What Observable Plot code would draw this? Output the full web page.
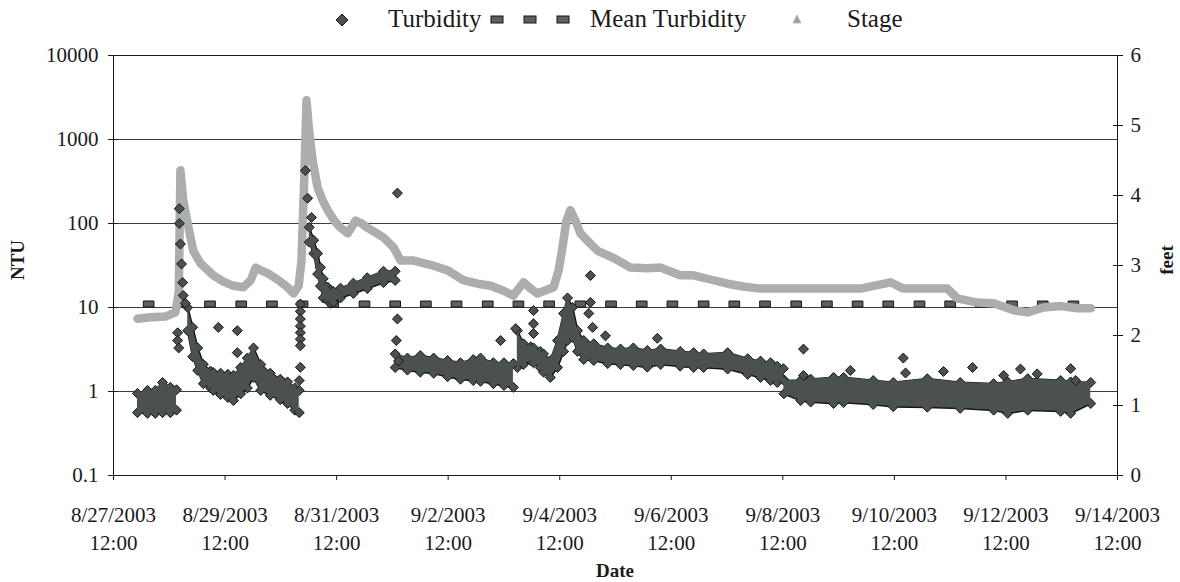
<!DOCTYPE html>
<html><head><meta charset="utf-8">
<script src="https://cdn.jsdelivr.net/npm/d3@7"></script>
<script src="https://cdn.jsdelivr.net/npm/@observablehq/plot@0.6"></script>
<style>
body{margin:0;background:#fff;font-family:"Liberation Serif","Times New Roman",serif;color:#1a1a1a}
#wrap{position:relative;width:1180px;height:582px;overflow:hidden;background:#fff}
#legend{position:absolute;left:0;top:0;width:1180px;height:40px}
#chart{position:absolute;left:0;top:40px}
.lt{position:absolute;font-size:25px;line-height:30px;top:4px;white-space:nowrap}
.ax{position:absolute;font-weight:bold;font-size:19px;line-height:22px;white-space:nowrap}
</style></head><body>
<div id="wrap"><div id="legend"></div><div id="chart"></div></div>
<script>
// ---------------- data ----------------
// time is given in days after 8/27/2003 12:00
const stageDay = [0.43,0.66,0.93,1.11,1.17,1.20,1.25,1.33,1.43,1.56,1.79,1.97,2.15,2.33,2.46,2.55,2.64,2.76,2.94,3.12,3.23,3.32,3.37,3.42,3.46,3.51,3.57,3.66,3.75,3.84,3.96,4.07,4.20,4.34,4.43,4.55,4.70,4.84,5.02,5.15,5.27,5.38,5.68,5.99,6.27,6.53,6.76,6.99,7.17,7.35,7.48,7.60,7.89,7.98,8.05,8.12,8.19,8.28,8.37,8.55,8.68,8.82,8.96,9.27,9.57,9.81,10.16,10.40,10.70,11.01,11.29,11.60,12.19,12.80,13.39,13.93,14.16,14.35,14.95,15.13,15.49,15.78,16.14,16.39,16.67,16.98,17.28,17.52];
const stageFeet = [2.24,2.26,2.27,2.33,2.61,4.36,3.93,3.60,3.21,3.03,2.86,2.77,2.71,2.69,2.79,2.97,2.93,2.89,2.80,2.69,2.60,2.71,3.07,4.25,5.36,4.90,4.50,4.11,3.93,3.79,3.64,3.54,3.46,3.64,3.61,3.54,3.47,3.40,3.26,3.07,3.07,3.07,3.01,2.93,2.79,2.74,2.71,2.64,2.57,2.76,2.67,2.60,2.69,2.93,3.26,3.64,3.79,3.64,3.46,3.31,3.21,3.16,3.11,2.97,2.96,2.97,2.86,2.86,2.80,2.74,2.70,2.67,2.67,2.67,2.67,2.76,2.67,2.67,2.67,2.53,2.47,2.46,2.36,2.33,2.40,2.42,2.39,2.39];

// dense turbidity band: segment id, time, lower and upper edge (NTU)
const bandSeg = [1,1,1,1,1,1, 2,2,2,2,2,2,2,2,2,2,2,2,2,2,2,2,2,2, 3,3,3,3,3,3,3,3,3,3,3,3,3, 4,4,4,4,4,4,4,4,4,4,4, 5,5,5,5,5,5,5,5,5,5,5,5,5,5,5,5,5,5,5,5,5,5,5,5,5,5,5,5, 6,6,6,6,6,6,6,6,6,6,6,6,6,6,6];
const bandDay = [0.43,0.61,0.75,0.88,1.02,1.13,
  1.33,1.42,1.51,1.61,1.74,1.79,1.92,2.05,2.15,2.28,2.40,2.51,2.64,2.81,2.99,3.12,3.25,3.33,
  3.51,3.59,3.66,3.71,3.76,3.84,3.89,3.94,4.07,4.30,4.55,4.84,5.05,
  5.05,5.27,5.50,5.74,5.99,6.22,6.45,6.58,6.81,7.00,7.17,
  7.24,7.35,7.48,7.53,7.65,7.71,7.83,7.96,8.07,8.14,8.23,8.32,8.43,8.61,8.86,9.09,9.32,9.57,9.81,10.16,10.40,10.58,11.01,11.37,11.60,11.78,11.90,12.01,
  12.02,12.32,12.50,12.91,13.09,13.62,13.98,14.59,15.18,15.78,16.03,16.39,16.98,17.16,17.52];
const bandLo = [0.56,0.55,0.55,0.56,0.56,0.60,
  5.3,2.6,1.78,1.24,1.10,1.03,0.92,0.85,0.78,0.94,1.10,1.47,1.03,0.90,0.80,0.72,0.60,0.56,
  60,44,25,18,13,12,11.2,11.5,13,14.7,16.8,19.8,21,
  1.93,1.8,1.7,1.65,1.5,1.4,1.35,1.32,1.24,1.18,1.12,
  1.93,2.1,2.34,2.2,1.93,1.7,1.47,1.93,3.0,4.05,4.4,3.0,2.4,2.34,2.15,2.1,2.04,1.95,2.1,2.0,1.93,1.93,1.85,1.6,1.47,1.35,1.28,1.40,
  0.94,0.78,0.75,0.72,0.74,0.70,0.66,0.65,0.63,0.60,0.55,0.60,0.58,0.55,0.72];
const bandHi = [0.95,1.03,1.03,1.28,1.12,1.05,
  10,5.8,3.3,2.1,1.75,1.68,1.65,1.6,1.55,1.93,2.5,3.3,2.1,1.65,1.40,1.30,1.10,1.03,
  90,63,44,30,22,17.5,16,15.5,17,19.5,22.6,27,27,
  2.8,2.5,2.68,2.5,2.34,2.2,2.4,2.5,2.2,2.2,2.15,
  5.3,3.7,3.4,3.3,3.0,2.8,2.34,4.05,8.5,13,10,5.3,4.05,3.7,3.3,3.2,3.3,3.08,3.2,3.0,2.9,2.8,2.9,2.46,2.3,2.2,2.0,1.87,
  1.35,1.35,1.40,1.47,1.47,1.35,1.28,1.42,1.28,1.24,1.30,1.42,1.35,1.30,1.28];

// individual turbidity readings (rises and outliers)
const pointDay = [1.15,1.15,1.17,1.18,1.18,1.20,1.22,1.24,1.25,1.29,1.88,2.22,2.22,3.35,3.35,3.35,3.35,3.35,3.35,3.35,3.35,3.33,3.44,3.48,3.55,5.09,5.09,5.07,5.11,6.94,7.21,7.53,7.53,7.53,8.55,8.55,8.52,8.59,8.82,9.75,12.37,12.37,13.21,14.16,14.20,14.88,15.40,15.96,16.26,16.56,17.16,17.25];
const pointNTU = [5.0,4.05,3.3,150,100,57,33,19.8,13.9,11.2,5.8,5.3,2.9,11,9,7.3,6,5,4.2,3.5,1.94,1.35,427,200,118,230,7.3,4.05,2.3,4.05,5.6,9.2,6.4,4.9,24,11.5,8.5,5.8,4.6,4.3,3.2,1.55,1.78,2.5,1.66,1.73,1.93,1.55,1.85,1.62,1.87,1.35];

const meanTurbidity = 11;
const meanMarkerDay = [0.63,1.18,1.73,2.29,2.84,3.39,3.94,4.50,5.05,5.60,6.15,6.71,7.26,7.81,8.37,8.92,9.47,10.02,10.58,11.13,11.68,12.24,12.79,13.34,13.89,14.45,15.00,15.55,16.11,16.66,17.21];

const leftTicks = [0.1,1,10,100,1000,10000];
const gridNTU = [1,10,100,1000];
const rightTicks = [0,1,2,3,4,5,6];
const xTickDay = [0,2,4,6,8,10,12,14,16,18];
const seriesNames = ["Turbidity","Mean Turbidity","Stage"];
const axisTitles = {left:"NTU", right:"feet", bottom:"Date"};

// ---------------- build ----------------
const start = Date.UTC(2003,7,27,12);
const toDate = d => new Date(start + d*864e5);
const feetToNTU = s => Math.pow(10, -1 + s*5/6);     // right axis 0..6 ft ↔ 0.1..10000 NTU

const stage = stageDay.map((d,i)=>({t:toDate(d), v:feetToNTU(stageFeet[i])}));
const band = bandDay.map((d,i)=>({t:toDate(d), lo:bandLo[i], hi:bandHi[i], seg:bandSeg[i]}));
const pts = pointDay.map((d,i)=>({t:toDate(d), v:pointNTU[i]}));
const mean = meanMarkerDay.map(d=>({t:toDate(d), v:meanTurbidity}));
const xTicks = xTickDay.map(toDate);

const DARK = "#4b5050", EDGE = "#161616", STAGE = "#adadad";
const rectSym = {draw(ctx, size){ const w = Math.sqrt(size); ctx.rect(-w*0.6,-w*0.34,w*1.2,w*0.68); }};

const chart = Plot.plot({
  width:1180, height:542,
  marginTop:15, marginBottom:107, marginLeft:113, marginRight:63,
  style:{fontFamily:'"Liberation Serif","Times New Roman",serif', fontSize:"21px", color:"#1a1a1a", background:"#fff", overflow:"visible"},
  x:{type:"utc", domain:[toDate(0), toDate(18)]},
  y:{type:"log", domain:[0.1,10000]},
  marks:[
    Plot.ruleY(gridNTU, {stroke:"#3c3c3c", strokeWidth:1}),
    Plot.frame({stroke:"#1a1a1a", strokeWidth:1}),
    Plot.axisY(leftTicks, {anchor:"left", fill:"none", tickSize:10, dx:5, label:null}),
    Plot.text(leftTicks, {y:d=>d, text:d=>String(d), frameAnchor:"left", textAnchor:"end", dx:-15}),
    Plot.axisY(rightTicks.map(feetToNTU), {anchor:"right", fill:"none", tickSize:10, dx:-5, label:null}),
    Plot.text(rightTicks, {y:d=>feetToNTU(d), text:d=>String(d), frameAnchor:"right", textAnchor:"start", dx:13}),
    Plot.axisX(xTicks, {anchor:"bottom", tickSize:5, tickPadding:22, label:null, lineHeight:1.33,
      tickFormat:d=>`${d.getUTCMonth()+1}/${d.getUTCDate()}/${d.getUTCFullYear()}\n12:00`}),
    // mean turbidity markers
    Plot.dot(mean, {x:"t", y:"v", symbol:rectSym, r:5, fill:"#5c6060", stroke:EDGE, strokeWidth:1}),
    // stage
    Plot.line(stage, {x:"t", y:"v", stroke:STAGE, strokeWidth:8.5, strokeLinejoin:"round", strokeLinecap:"round"}),
    // turbidity band
    Plot.line(band, {x:"t", y:"lo", z:"seg", stroke:EDGE, strokeWidth:2}),
    Plot.line(band, {x:"t", y:"hi", z:"seg", stroke:EDGE, strokeWidth:2}),
    Plot.dot(band, {x:"t", y:"lo", symbol:"diamond2", r:4.5, fill:DARK, stroke:EDGE, strokeWidth:1}),
    Plot.dot(band, {x:"t", y:"hi", symbol:"diamond2", r:4.5, fill:DARK, stroke:EDGE, strokeWidth:1}),
    Plot.areaY(band, {x:"t", y1:"lo", y2:"hi", z:"seg", fill:DARK}),
    Plot.dot(pts, {x:"t", y:"v", symbol:"diamond2", r:4.5, fill:DARK, stroke:EDGE, strokeWidth:1})
  ]
});
document.getElementById("chart").appendChild(chart);

// ---------------- legend and axis titles ----------------
const lg = document.getElementById("legend");
lg.innerHTML = `
<svg width="1180" height="40" style="position:absolute;left:0;top:0">
  <path d="M342,14 L348,20 L342,26 L336,20 Z" fill="${DARK}" stroke="${EDGE}"/>
  <rect x="491" y="16" width="12" height="7" fill="#5c6060" stroke="${EDGE}"/>
  <rect x="524" y="16" width="12" height="7" fill="#5c6060" stroke="${EDGE}"/>
  <rect x="557" y="16" width="12" height="7" fill="#5c6060" stroke="${EDGE}"/>
  <path d="M797,15 L801,23 L793,23 Z" fill="#9a9a9a" stroke="#bbb"/>
</svg>
<span class="lt" style="left:388px">${seriesNames[0]}</span>
<span class="lt" style="left:590px">${seriesNames[1]}</span>
<span class="lt" style="left:847px">${seriesNames[2]}</span>`;
const wrap = document.getElementById("wrap");
const t1 = document.createElement("div"); t1.className="ax"; t1.textContent=axisTitles.left;
t1.style.cssText="left:18px;top:260px;transform:translate(-50%,-50%) rotate(-90deg)"; wrap.appendChild(t1);
const t2 = document.createElement("div"); t2.className="ax"; t2.textContent=axisTitles.right;
t2.style.cssText="left:1167px;top:260px;transform:translate(-50%,-50%) rotate(-90deg)"; wrap.appendChild(t2);
const t3 = document.createElement("div"); t3.className="ax"; t3.textContent=axisTitles.bottom;
t3.style.cssText="left:615px;top:571px;transform:translate(-50%,-50%)"; wrap.appendChild(t3);
</script></body></html>
